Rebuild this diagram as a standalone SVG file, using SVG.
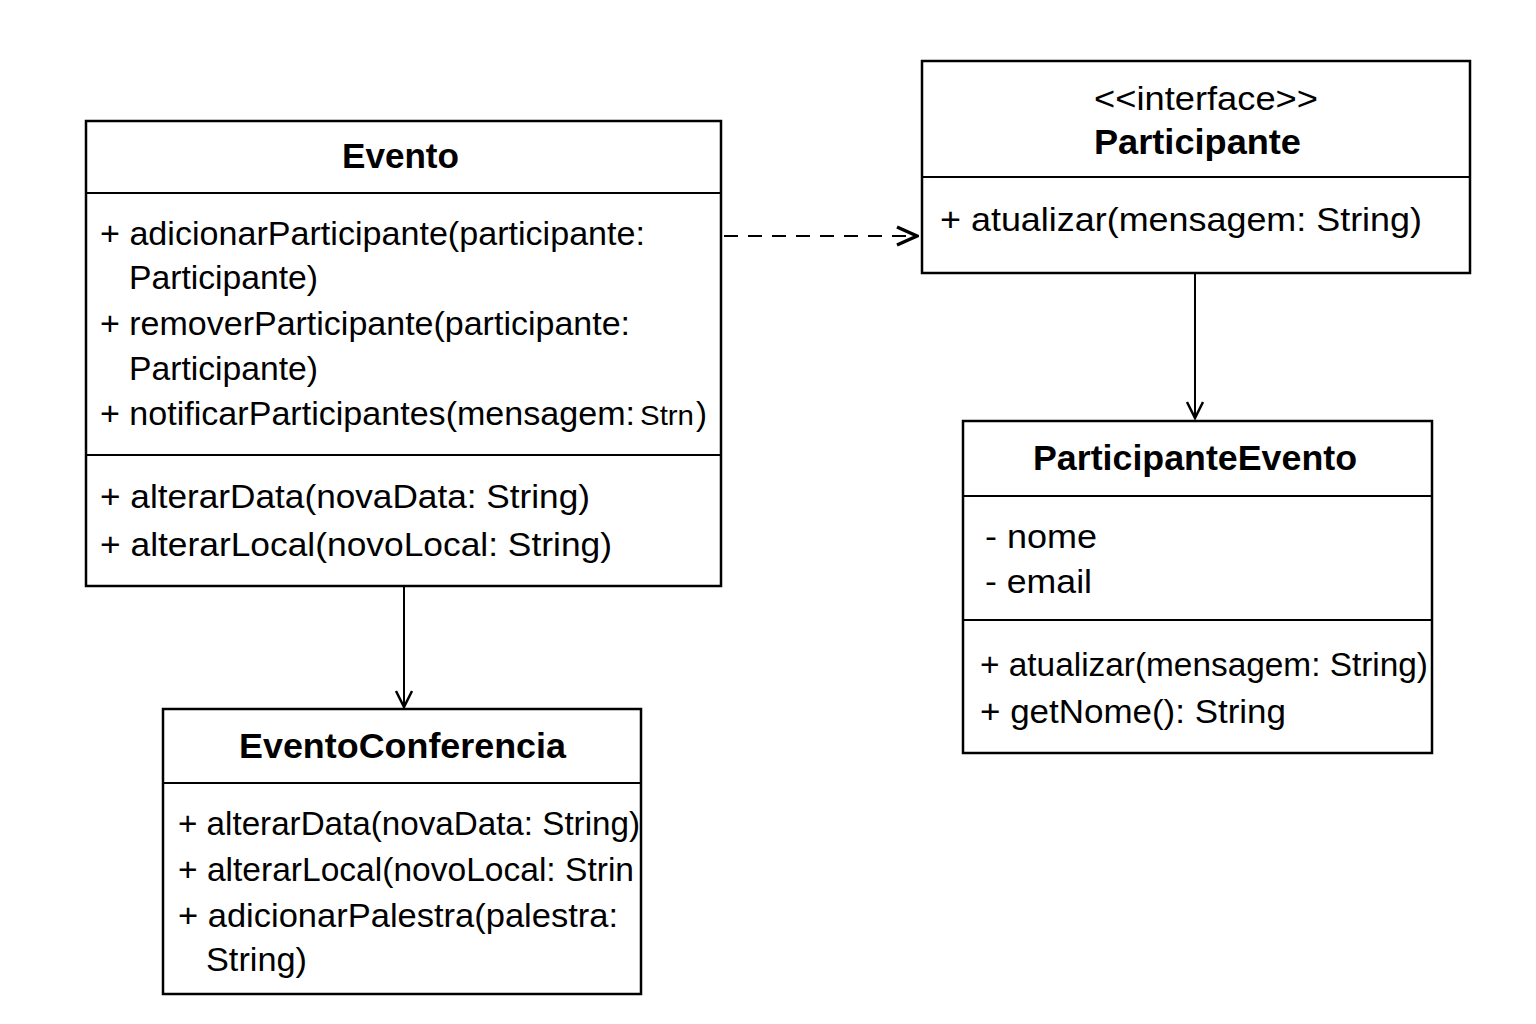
<svg xmlns="http://www.w3.org/2000/svg" width="1536" height="1024" viewBox="0 0 1536 1024">
<style>
.box{fill:#fff;stroke:#000;stroke-width:2.5}
.div{stroke:#000;stroke-width:2}
.t{font-family:"Liberation Sans",Arial,sans-serif;font-size:33px;fill:#000}
.b{font-family:"Liberation Sans",Arial,sans-serif;font-size:35px;font-weight:bold;fill:#000}
.s{font-family:"Liberation Sans",Arial,sans-serif;font-size:28px;fill:#000}
.c{stroke:#000;stroke-width:2;fill:none}
</style>
<defs>
<marker id="open" viewBox="0 0 20 20" refX="18" refY="10" markerWidth="20" markerHeight="20" markerUnits="userSpaceOnUse" orient="auto">
<path d="M2,2 L18,10 L2,18" fill="none" stroke="#000" stroke-width="2.5"/>
</marker>
<marker id="dep" viewBox="0 0 24 24" refX="22" refY="12" markerWidth="24" markerHeight="24" markerUnits="userSpaceOnUse" orient="auto">
<path d="M2,3 L22,12 L2,21" fill="none" stroke="#000" stroke-width="3.5"/>
</marker>
<clipPath id="cc"><rect x="163" y="709" width="478" height="285"/></clipPath>
</defs>
<rect width="1536" height="1024" fill="#fff"/>
<g id="connectors">
<line class="c" x1="724" y1="236" x2="917" y2="236" stroke-dasharray="14,10" marker-end="url(#dep)"/>
<line class="c" x1="1195" y1="274" x2="1195" y2="418" marker-end="url(#open)"/>
<line class="c" x1="404" y1="587" x2="404" y2="707" marker-end="url(#open)"/>
</g>
<g id="Evento">
<rect class="box" x="86" y="121" width="635" height="465"/>
<line class="div" x1="86" y1="193" x2="721" y2="193"/>
<line class="div" x1="86" y1="455" x2="721" y2="455"/>
<text class="b" x="342" y="168" textLength="117" lengthAdjust="spacingAndGlyphs">Evento</text>
<text class="t" x="100" y="245" textLength="545" lengthAdjust="spacingAndGlyphs">+ adicionarParticipante(participante:</text>
<text class="t" x="129" y="289" textLength="189" lengthAdjust="spacingAndGlyphs">Participante)</text>
<text class="t" x="100" y="335" textLength="530" lengthAdjust="spacingAndGlyphs">+ removerParticipante(participante:</text>
<text class="t" x="129" y="380" textLength="189" lengthAdjust="spacingAndGlyphs">Participante)</text>
<text class="t" x="100" y="425" textLength="535" lengthAdjust="spacingAndGlyphs">+ notificarParticipantes(mensagem:</text>
<text class="s" x="640" y="425" textLength="54" lengthAdjust="spacingAndGlyphs">Strn</text>
<text class="t" x="696" y="425">)</text>
<text class="t" x="100" y="508" textLength="490" lengthAdjust="spacingAndGlyphs">+ alterarData(novaData: String)</text>
<text class="t" x="100" y="556" textLength="512" lengthAdjust="spacingAndGlyphs">+ alterarLocal(novoLocal: String)</text>
</g>
<g id="Participante">
<rect class="box" x="922" y="61" width="548" height="212"/>
<line class="div" x1="922" y1="177" x2="1470" y2="177"/>
<text class="t" x="1094" y="110" textLength="224" lengthAdjust="spacingAndGlyphs">&lt;&lt;interface&gt;&gt;</text>
<text class="b" x="1094" y="154" textLength="207" lengthAdjust="spacingAndGlyphs">Participante</text>
<text class="t" x="940" y="231" textLength="482" lengthAdjust="spacingAndGlyphs">+ atualizar(mensagem: String)</text>
</g>
<g id="ParticipanteEvento">
<rect class="box" x="963" y="421" width="469" height="332"/>
<line class="div" x1="963" y1="496" x2="1432" y2="496"/>
<line class="div" x1="963" y1="620" x2="1432" y2="620"/>
<text class="b" x="1033" y="470" textLength="324" lengthAdjust="spacingAndGlyphs">ParticipanteEvento</text>
<text class="t" x="985" y="548" textLength="112" lengthAdjust="spacingAndGlyphs">- nome</text>
<text class="t" x="985" y="593" textLength="107" lengthAdjust="spacingAndGlyphs">- email</text>
<text class="t" x="980" y="676" textLength="448" lengthAdjust="spacingAndGlyphs">+ atualizar(mensagem: String)</text>
<text class="t" x="980" y="723" textLength="306" lengthAdjust="spacingAndGlyphs">+ getNome(): String</text>
</g>
<g id="EventoConferencia">
<rect class="box" x="163" y="709" width="478" height="285"/>
<line class="div" x1="163" y1="783" x2="641" y2="783"/>
<text class="b" x="239" y="758" textLength="327" lengthAdjust="spacingAndGlyphs">EventoConferencia</text>
<g clip-path="url(#cc)">
<text class="t" x="178" y="835" textLength="462" lengthAdjust="spacingAndGlyphs">+ alterarData(novaData: String)</text>
<text class="t" x="178" y="881" textLength="456" lengthAdjust="spacingAndGlyphs">+ alterarLocal(novoLocal: Strin</text>
<text class="t" x="178" y="927" textLength="440" lengthAdjust="spacingAndGlyphs">+ adicionarPalestra(palestra:</text>
<text class="t" x="206" y="971" textLength="101" lengthAdjust="spacingAndGlyphs">String)</text>
</g>
</g>
</svg>
